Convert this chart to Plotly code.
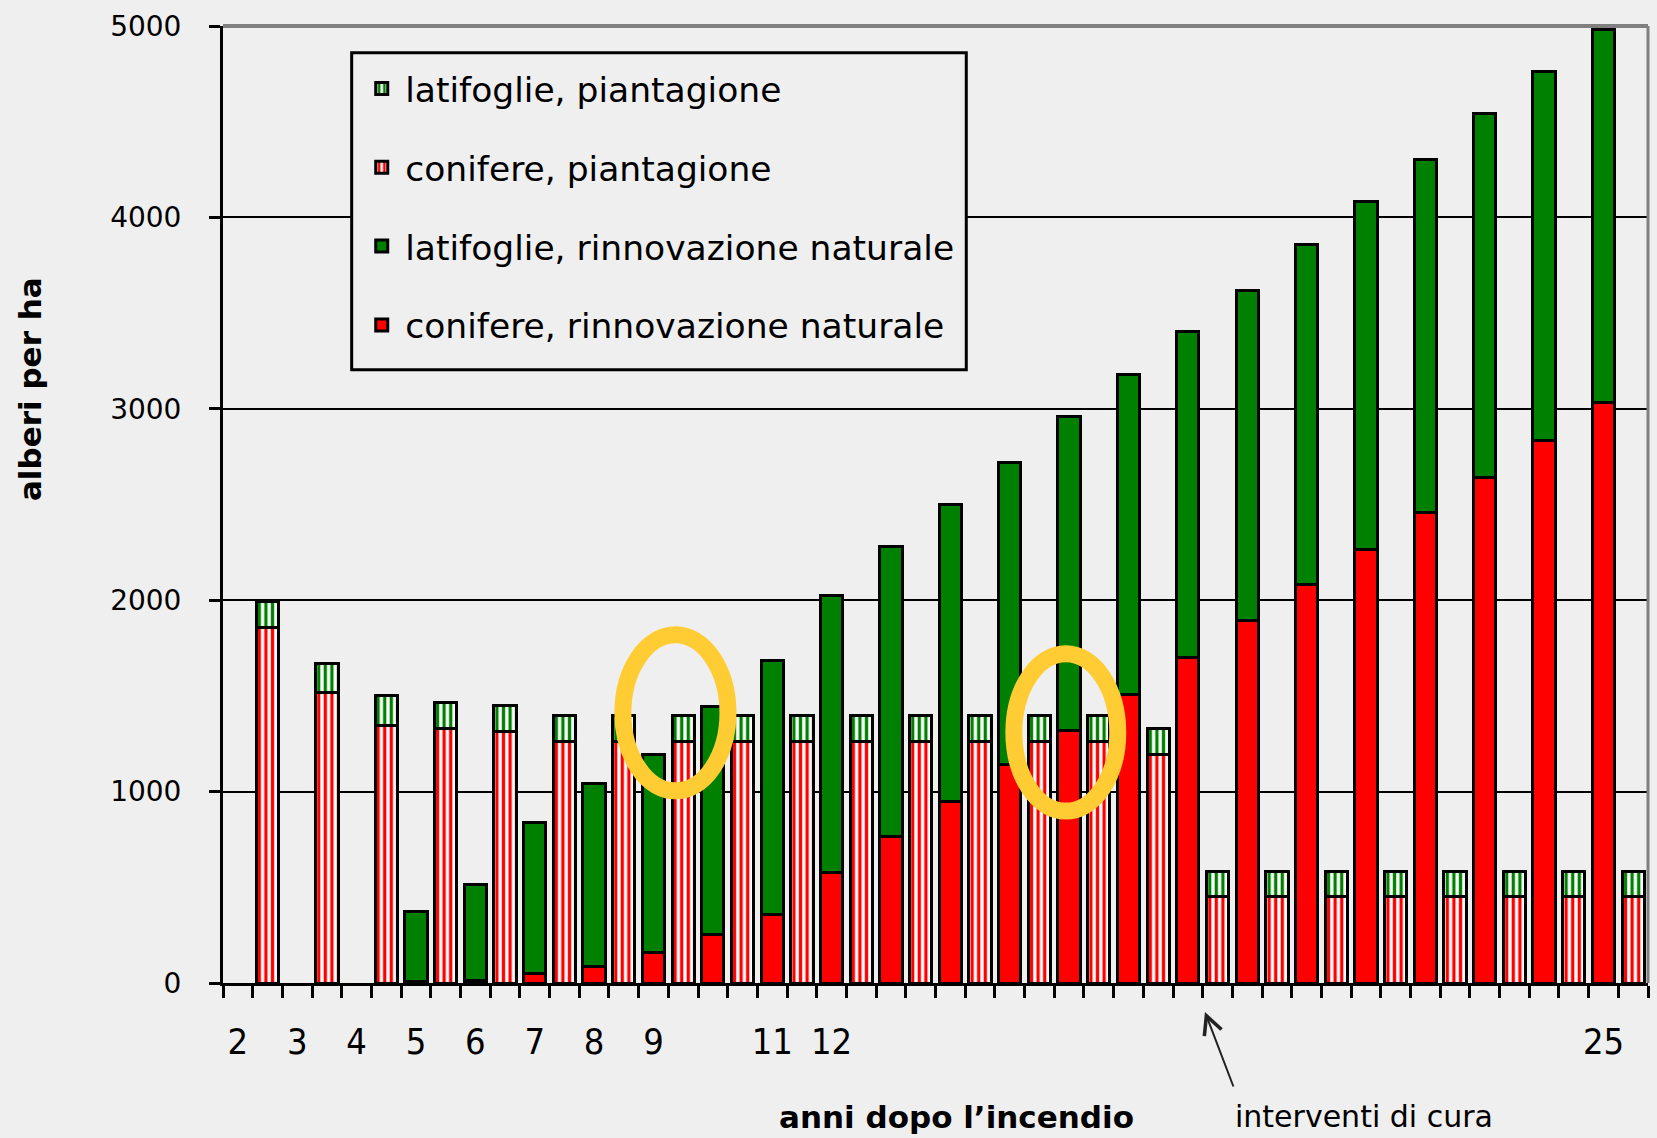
import plotly.graph_objects as go

# ---------------- data ----------------
years = list(range(2, 26))
year_labels = ["2", "3", "4", "5", "6", "7", "8", "9", "", "11", "12", "", "", "", "",
               "", "", "", "", "", "", "", "", "25"]

# natural regeneration (solid bars)
con_nat = [None, None, None, 10, 12, 51, 87, 157, 255, 357, 578, 764, 950, 1140, 1321,
           1507, 1700, 1896, 2082, 2265, 2457, 2641, 2834, 3031]
lat_nat = [None, None, None, 366, 501, 785, 954, 1038, 1191, 1326, 1446, 1518, 1548, 1580,
           1638, 1673, 1703, 1724, 1778, 1817, 1848, 1900, 1927, 1949]

# plantation (striped bars)
con_pl = [1858, 1517, 1347, 1329, 1313, 1262, 1262, 1262, 1262, 1262, 1262, 1262, 1262,
          1262, 1262, 1195, 452, 452, 452, 452, 452, 452, 452, 452]
lat_pl = [134, 153, 154, 136, 135, 134, 134, 134, 134, 134, 134, 134, 134, 134, 134, 133,
          132, 132, 132, 132, 132, 132, 132, 132]

# each year occupies two category slots: natural regeneration, then plantation
x_nat = [2 * i for i in range(len(years))]
x_pl = [2 * i + 1 for i in range(len(years))]
slot_edges = [k - 0.5 for k in range(2 * len(years) + 1)]

GREEN = "#008000"
RED = "#FF0000"
BG = "#EFEFEF"
BAR_W = 0.75
OUT = dict(color="black", width=3)
STRIPES = dict(shape="|", bgcolor="white", size=6.6, solidity=0.5, fillmode="replace")

fig = go.Figure()
fig.add_bar(x=x_nat, y=con_nat, name="conifere, rinnovazione naturale", legendgroup="d",
            legendrank=4, width=BAR_W, marker=dict(color=RED, line=OUT))
fig.add_bar(x=x_nat, y=lat_nat, name="latifoglie, rinnovazione naturale", legendgroup="c",
            legendrank=3, width=BAR_W, marker=dict(color=GREEN, line=OUT))
fig.add_bar(x=x_pl, y=con_pl, name="conifere, piantagione", legendgroup="b",
            legendrank=2, width=BAR_W, marker=dict(color=RED, line=OUT, pattern=STRIPES))
fig.add_bar(x=x_pl, y=lat_pl, name="latifoglie, piantagione", legendgroup="a",
            legendrank=1, width=BAR_W, marker=dict(color=GREEN, line=OUT, pattern=STRIPES))

fig.update_layout(
    width=1657, height=1138,
    margin=dict(l=223, r=9, t=26, b=155),
    paper_bgcolor=BG, plot_bgcolor=BG,
    barmode="stack",
    font=dict(family="DejaVu Sans", color="black"),
    showlegend=True,
    legend=dict(
        x=0.0949, y=0.965, xanchor="left", yanchor="top",
        bgcolor="rgba(0,0,0,0)", borderwidth=0,
        font=dict(family="DejaVu Sans", size=34.5, color="black"),
        traceorder="grouped", tracegroupgap=31, itemwidth=37,
    ),
    xaxis=dict(
        range=[-0.5, 2 * len(years) - 0.5],
        tickmode="array", tickvals=x_nat, ticktext=year_labels,
        ticks="", showgrid=False, zeroline=False,
        showline=True, linecolor="black", linewidth=3,
        tickfont=dict(family="Liberation Sans Narrow, DejaVu Sans Condensed, Liberation Sans",
                      size=36, color="black"),
        ticklabelstandoff=25,
        minor=dict(tickmode="array", tickvals=slot_edges, ticks="outside",
                   ticklen=12, tickwidth=3, tickcolor="black", showgrid=False),
    ),
    yaxis=dict(
        range=[0, 5000], tickmode="array", tickvals=[0, 1000, 2000, 3000, 4000, 5000],
        ticks="outside", ticklen=11, tickwidth=3, tickcolor="black",
        showgrid=True, gridcolor="black", gridwidth=2, zeroline=False,
        showline=True, linecolor="black", linewidth=3,
        tickfont=dict(family="DejaVu Sans", size=28, color="black"),
        ticklabelstandoff=22,
    ),
    shapes=[
        dict(type="line", xref="paper", yref="paper", x0=0, x1=1, y0=1, y1=1,
             line=dict(color="#808080", width=4), layer="above"),
        dict(type="line", xref="paper", yref="paper", x0=1, x1=1, y0=0, y1=1,
             line=dict(color="#808080", width=3), layer="above"),
        # legend frame
        dict(type="rect", xref="paper", yref="paper", x0=0.0903, x1=0.5216, y0=0.6408,
             y1=0.9720, fillcolor=BG, line=dict(color="black", width=3), layer="above"),
        # highlighted areas
        dict(type="circle", xref="x", yref="y", x0=12.97, x1=16.51, y0=1004, y1=1819,
             line=dict(color="#FFCC33", width=17), layer="above"),
        dict(type="circle", xref="x", yref="y", x0=26.14, x1=29.64, y0=898, y1=1720,
             line=dict(color="#FFCC33", width=17), layer="above"),
    ],
    annotations=[
        dict(text="alberi per ha", xref="paper", yref="paper", x=-0.1354, y=0.6207,
             textangle=-90, showarrow=False, xanchor="center", yanchor="middle",
             font=dict(family="DejaVu Sans", size=31, weight="bold", color="black")),
        dict(text="anni dopo l’incendio", xref="paper", yref="paper", x=0.5144, y=-0.140,
             showarrow=False, xanchor="center", yanchor="middle",
             font=dict(family="DejaVu Sans", size=31, weight="bold", color="black")),
        dict(text="interventi di cura", xref="paper", yref="paper", x=0.8007, y=-0.140,
             showarrow=False, xanchor="center", yanchor="middle",
             font=dict(family="DejaVu Sans", size=30, color="black")),
        dict(text="", xref="paper", yref="paper", x=0.6891, y=-0.0303,
             showarrow=True, arrowhead=5, arrowsize=1.8, arrowwidth=2, arrowcolor="#222222",
             ax=29, ay=76),
    ],
)

fig.write_html(
    "out.html",
    config={"displayModeBar": False},
    post_script="document.body.style.margin='0px';"
                "document.body.style.background='#EFEFEF';"
                "document.documentElement.style.overflow='hidden';",
)
